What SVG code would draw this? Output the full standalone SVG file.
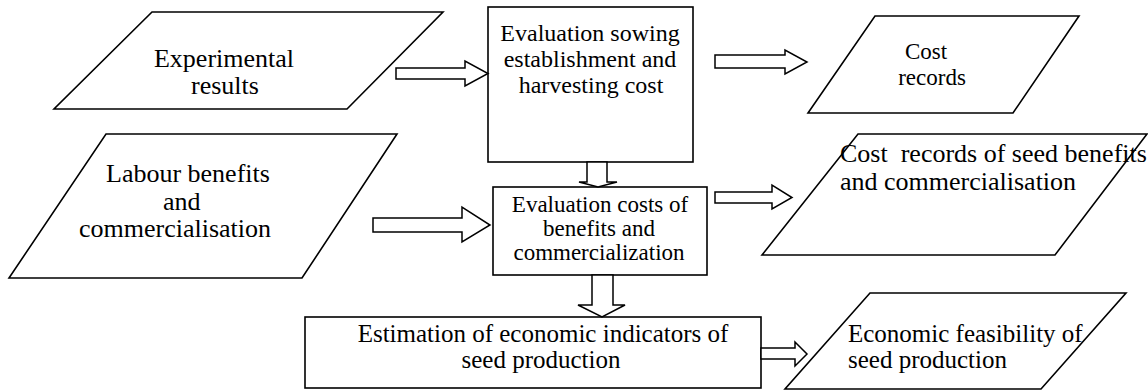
<svg xmlns="http://www.w3.org/2000/svg" width="1148" height="390" viewBox="0 0 1148 390" font-family="'Liberation Serif', 'Times New Roman', 'DejaVu Serif', serif">
<style>
.s{fill:#fff;stroke:#000;stroke-width:1.6;stroke-linejoin:miter}
.a{fill:#fff;stroke:#000;stroke-width:1.5;stroke-linejoin:miter}
text{font-family:'Liberation Serif','Times New Roman','DejaVu Serif',serif;fill:#000}
.m{text-anchor:middle}
</style>
<rect width="1148" height="390" fill="#fff"/>
<g id="experimental">
<polygon class="s" points="152,12 443,12 347,109 54,109"/>
<text class="m" x="224" y="67" font-size="26">Experimental</text>
<text class="m" x="225" y="94" font-size="26">results</text>
</g>
<g id="labour">
<polygon class="s" points="106,134 397,134 302,278 9,278"/>
<text x="106" y="182" font-size="26">Labour benefits</text>
<text x="163" y="210" font-size="26">and</text>
<text x="79" y="237" font-size="26">commercialisation</text>
</g>
<g id="eval-sowing">
<rect class="s" x="488" y="7" width="205" height="155"/>
<text class="m" x="590" y="41" font-size="24">Evaluation sowing</text>
<text class="m" x="590" y="67" font-size="24">establishment and</text>
<text class="m" x="591" y="93" font-size="24">harvesting cost</text>
</g>
<g id="eval-benefits">
<rect class="s" x="493" y="187" width="214" height="88"/>
<text class="m" x="600" y="212" font-size="23">Evaluation costs of</text>
<text class="m" x="599" y="236" font-size="23">benefits and</text>
<text class="m" x="599" y="260" font-size="23">commercialization</text>
</g>
<g id="estimation">
<rect class="s" x="305" y="317" width="456" height="71"/>
<text class="m" x="543" y="342" font-size="25">Estimation of economic indicators of</text>
<text class="m" x="541" y="368" font-size="25">seed production</text>
</g>
<g id="cost-records">
<polygon class="s" points="875,16 1079,16 1013,113 808,113"/>
<text class="m" x="926" y="59" font-size="23">Cost</text>
<text class="m" x="932" y="85" font-size="23">records</text>
</g>
<g id="cost-seed">
<polygon class="s" points="858,134 1147,134 1055,255 762,255"/>
<text x="840" y="162" font-size="26" style="white-space:pre">Cost  records of seed benefits</text>
<text x="840" y="190" font-size="26">and commercialisation</text>
</g>
<g id="feasibility">
<polygon class="s" points="870,293 1126,293 1041,389 785,389"/>
<text x="848" y="342" font-size="25">Economic feasibility of</text>
<text x="848" y="368" font-size="25">seed production</text>
</g>
<g id="connectors">
<polygon class="a" points="396,68 465,68 465,61 488,73.5 465,86 465,79 396,79"/>
<polygon class="a" points="373,218 462,218 462,207 490,225 462,242 462,232 373,232"/>
<polygon class="a" points="715,55 785,55 785,50 807,62 785,74 785,68 715,68"/>
<polygon class="a" points="715,192 772,192 772,185 792,197.5 772,209 772,203 715,203"/>
<polygon class="a" points="761,348 795,348 795,342 807,354 795,366 795,359 761,359"/>
<polygon class="a" points="587,162 607,162 607,182 617,182 598,187 579,182 587,182"/>
<polygon class="a" points="592,275 613,275 613,305 625,305 602,317 578,305 592,305"/>
</g>
</svg>
